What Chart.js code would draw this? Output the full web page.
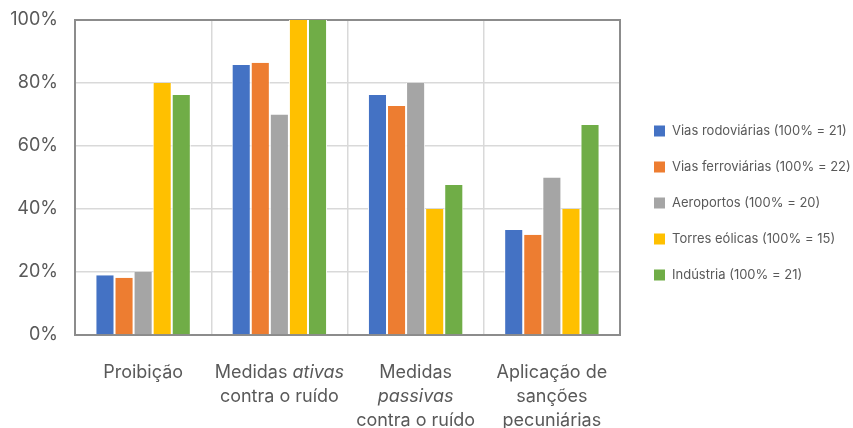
<!DOCTYPE html>
<html>
<head>
<meta charset="utf-8">
<script src="https://cdn.jsdelivr.net/npm/chart.js@4/dist/chart.umd.min.js"></script>
<style>
  html, body { margin: 0; padding: 0; background: #ffffff; }
  canvas { display: block; }
</style>
</head>
<body>
<canvas id="chart" width="853" height="428"></canvas>
<script>
// Category labels: one entry per line, *words* are set in italics
const categories = [
  ["Proibição"],
  ["Medidas *ativas*", "contra o ruído"],
  ["Medidas", "*passivas*", "contra o ruído"],
  ["Aplicação de", "sanções", "pecuniárias"]
];

const seriesNames = [
  "Vias rodoviárias (100% = 21)",
  "Vias ferroviárias (100% = 22)",
  "Aeroportos (100% = 20)",
  "Torres eólicas (100% = 15)",
  "Indústria (100% = 21)"
];

// Share of cases (%) per measure
const viasRodoviarias  = [19.0, 85.7, 76.2, 33.3];
const viasFerroviarias = [18.2, 86.4, 72.7, 31.8];
const aeroportos       = [20.0, 70.0, 80.0, 50.0];
const torresEolicas    = [80.0, 100.0, 40.0, 40.0];
const industria        = [76.2, 100.0, 47.6, 66.7];

const yTicks = [0, 20, 40, 60, 80, 100];

const seriesColors = ["#4472C4", "#ED7D31", "#A5A5A5", "#FFC000", "#70AD47"];
const seriesValues = [viasRodoviarias, viasFerroviarias, aeroportos, torresEolicas, industria];

const FONT = "Inter, 'Open Sans', sans-serif";
const TEXT = "#595959";

// Frame around the plotting area
const framePlugin = {
  id: "frame",
  beforeDatasetsDraw(chart) {
    const { ctx, chartArea: a } = chart;
    ctx.save();
    ctx.strokeStyle = "#8c8c8c";
    ctx.lineWidth = 2;
    ctx.strokeRect(a.left, a.top, a.right - a.left, a.bottom - a.top);
    ctx.restore();
  }
};

// Multi-line category labels with italic segments
const categoryLabelPlugin = {
  id: "categoryLabels",
  afterDraw(chart) {
    const { ctx } = chart;
    const xScale = chart.scales.x;
    const size = 18;
    const lineH = 24;
    const firstY = xScale.bottom + 38;
    ctx.save();
    ctx.fillStyle = TEXT;
    ctx.textBaseline = "middle";
    ctx.textAlign = "left";
    categories.forEach((lines, i) => {
      const cx = xScale.getPixelForTick(i);
      lines.forEach((line, j) => {
        const parts = line.split("*").map((t, k) => ({ text: t, italic: k % 2 === 1 })).filter(p => p.text);
        let total = 0;
        parts.forEach(p => {
          ctx.font = (p.italic ? "italic " : "") + size + "px " + FONT;
          p.w = ctx.measureText(p.text).width;
          total += p.w;
        });
        let x = cx - total / 2;
        const y = firstY + j * lineH;
        parts.forEach(p => {
          ctx.font = (p.italic ? "italic " : "") + size + "px " + FONT;
          ctx.fillText(p.text, x, y);
          x += p.w;
        });
      });
    });
    ctx.restore();
  }
};

// Legend column on the right
const legendPlugin = {
  id: "sideLegend",
  afterDraw(chart) {
    const { ctx } = chart;
    const boxX = 654, textX = 672, startY = 131, step = 36, box = 11;
    ctx.save();
    ctx.font = "13px " + FONT;
    ctx.textBaseline = "middle";
    ctx.textAlign = "left";
    chart.data.datasets.forEach((ds, i) => {
      const y = startY + i * step;
      ctx.fillStyle = ds.backgroundColor;
      ctx.fillRect(boxX, y - box / 2, box, box);
      ctx.fillStyle = TEXT;
      ctx.fillText(ds.label, textX, y);
    });
    ctx.restore();
  }
};

new Chart(document.getElementById("chart"), {
  type: "bar",
  data: {
    labels: categories.map(l => l.join(" ").replace(/\*/g, "")),
    datasets: seriesNames.map((name, i) => ({
      label: name,
      data: seriesValues[i],
      backgroundColor: seriesColors[i],
      borderColor: "#ffffff",
      borderWidth: { left: 1, right: 1, top: 0, bottom: 0 },
      barPercentage: 1,
      categoryPercentage: 0.7
    }))
  },
  options: {
    responsive: false,
    animation: false,
    layout: { padding: { top: 20, bottom: 93, right: 233, left: 0 } },
    plugins: {
      legend: { display: false },
      tooltip: { enabled: false }
    },
    scales: {
      x: {
        grid: { color: "#d9d9d9", lineWidth: 1.5, drawTicks: false, offset: true },
        border: { display: false },
        ticks: { display: false }
      },
      y: {
        min: 0,
        max: 100,
        afterBuildTicks(scale) { scale.ticks = yTicks.map(v => ({ value: v })); },
        afterFit(scale) {
          scale.width = 75;
          scale.paddingTop = 0;
          scale.paddingBottom = 0;
        },
        grid: { color: "#d9d9d9", lineWidth: 1.5, drawTicks: false },
        border: { display: false },
        ticks: {
          padding: 17,
          color: TEXT,
          font: { family: FONT, size: 18 },
          callback: v => v + "%"
        }
      }
    }
  },
  plugins: [framePlugin, categoryLabelPlugin, legendPlugin]
});
</script>
</body>
</html>
